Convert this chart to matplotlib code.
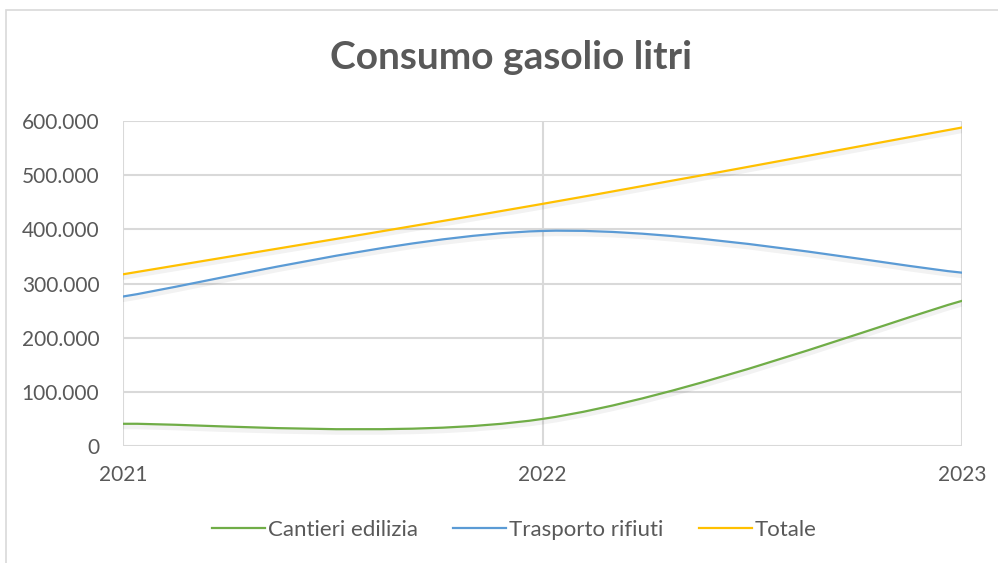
import numpy as np
import matplotlib
matplotlib.use("Agg")
import matplotlib.pyplot as plt
from matplotlib.path import Path
from matplotlib.patches import PathPatch, Rectangle
from matplotlib.lines import Line2D
from matplotlib.ticker import FuncFormatter
import matplotlib.patheffects as pe

# data
years = [2021, 2022, 2023]
cantieri = [41000, 50000, 268000]
trasporto = [276000, 397000, 320000]
totale = [317000, 447000, 588000]

series = [
    ("Cantieri edilizia", cantieri, "#70AD47"),
    ("Trasporto rifiuti", trasporto, "#5B9BD5"),
    ("Totale", totale, "#FFC000"),
]

plt.rcParams['font.family'] = ['Lato', 'DejaVu Sans']
grey_txt = "#595959"
grid_col = "#d9d9d9"


def smooth_path(xs, ys):
    # Excel-like smoothed line: catmull-rom turned into cubic bezier segments
    pts = np.column_stack([xs, ys]).astype(float)
    n = len(pts)
    verts = [pts[0]]
    codes = [Path.MOVETO]
    for i in range(n - 1):
        p0 = pts[max(i - 1, 0)]
        p1 = pts[i]
        p2 = pts[i + 1]
        p3 = pts[min(i + 2, n - 1)]
        c1 = p1 + (p2 - p0) / 6
        c2 = p2 - (p3 - p1) / 6
        verts += [c1, c2, p2]
        codes += [Path.CURVE4] * 3
    return Path(verts, codes)


fig = plt.figure(figsize=(9.98, 5.63), dpi=100)
fig.patch.set_facecolor("white")
fig.add_artist(Rectangle((6 / 998, -0.1), 1.2, 1.1 - 10 / 563,
                         transform=fig.transFigure, fill=False,
                         edgecolor=grid_col, lw=1.2))

ax = fig.add_axes([123 / 998, 1 - 446 / 563, (962 - 123) / 998, (446 - 121) / 563])
ax.set_xlim(2021, 2023)
ax.set_ylim(0, 600000)
ax.set_yticks(np.arange(0, 600001, 100000))
ax.set_xticks(years)
ax.yaxis.set_major_formatter(FuncFormatter(lambda v, p: f"{int(v):,}".replace(",", ".")))
ax.grid(True, color=grid_col, lw=1.5)
ax.set_axisbelow(True)
for s in ax.spines.values():
    s.set_visible(False)
ax.tick_params(length=0, labelsize=15, colors=grey_txt)
ax.tick_params(axis="y", pad=17)
ax.tick_params(axis="x", pad=14)

handles = []
for name, vals, col in series:
    patch = PathPatch(smooth_path(years, vals), fill=False, edgecolor=col, lw=1.6,
                      capstyle="round", zorder=3,
                      path_effects=[pe.SimpleLineShadow(offset=(0.3, -2), shadow_color="black",
                                                        alpha=0.05, linewidth=4),
                                    pe.Normal()])
    ax.add_patch(patch)
    handles.append(Line2D([], [], color=col, lw=1.6))

fig.text(511 / 998, 1 - 58 / 563, "Consumo gasolio litri", ha="center", va="center",
         fontsize=28, fontweight="bold", color=grey_txt)

fig.legend(handles, [s[0] for s in series], loc="center", bbox_to_anchor=(514 / 998, 1 - 530 / 563),
           ncol=3, frameon=False, fontsize=16, handlelength=2.4, handletextpad=0.1,
           columnspacing=1.6, labelcolor=grey_txt)

fig.savefig("out.png", dpi=100)
